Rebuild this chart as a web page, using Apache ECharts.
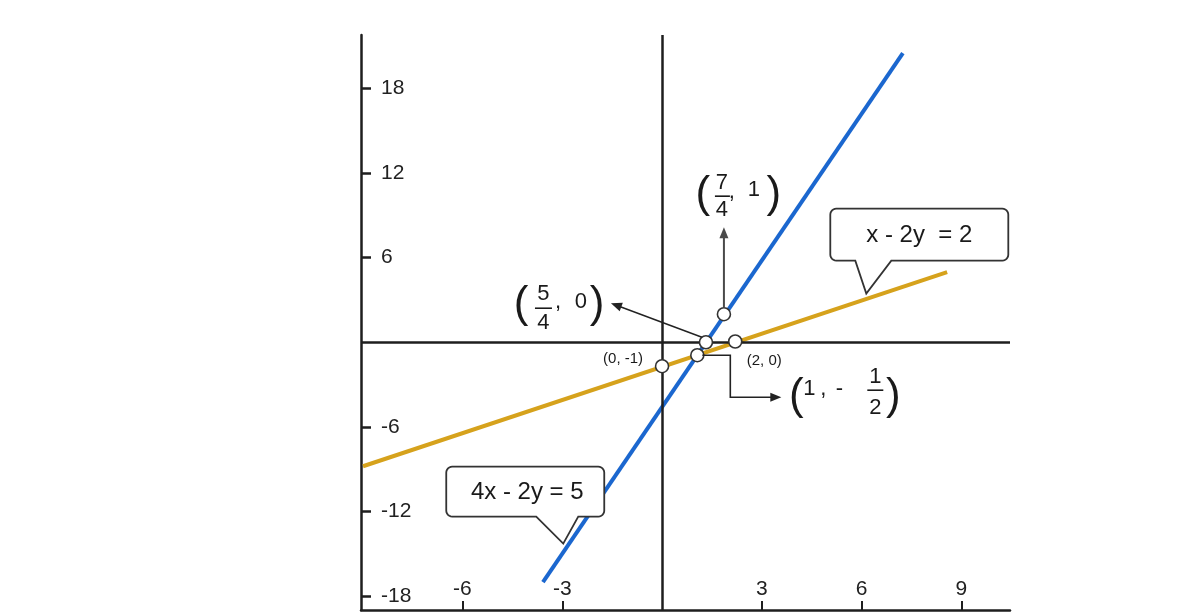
<!DOCTYPE html>
<html><head><meta charset="utf-8">
<script src="https://cdn.jsdelivr.net/npm/echarts@6/dist/echarts.min.js"></script>
<style>html,body{margin:0;padding:0;background:#fff}#c{width:1191px;height:613px}</style>
</head><body><div id="c"></div><script>
// ---- data (axis units) ----
const xTickValues = [-6, -3, 3, 6, 9];
const yTickValues = [-18, -12, -6, 6, 12, 18];
const blueLineX = [-3.58, 7.24];
const blueLineY = [-17.03, 20.51];
const orangeLineX = [-8.99, 8.57];
const orangeLineY = [-8.80, 4.97];
const pointX = [0, 1.32, 1.06, 2.20, 1.86];
const pointY = [-1.70, 0, -0.92, 0.05, 1.99];
const equationLabels = ['x - 2y  = 2', '4x - 2y = 5'];
const smallPointLabels = ['(0, -1)', '(2, 0)'];

const FONT = '"Liberation Sans", Arial, sans-serif';
const BLUE = '#1b67cf';
const GOLD = '#d6a21c';
const INK = '#1e1e1e';

const chart = echarts.init(document.getElementById('c'), null, {renderer: 'canvas'});
const option = {
  animation: false,
  backgroundColor: '#fff',
  grid: {left: 361, right: 181, top: 35, bottom: 3, containLabel: false},
  xAxis: {
    type: 'value', min: -9.05, max: 10.46, position: 'bottom',
    axisLine: {show: true, onZero: false, lineStyle: {color: INK, width: 2.5}},
    axisTick: {show: true, inside: true, length: 9, customValues: xTickValues, lineStyle: {color: INK, width: 2}},
    axisLabel: {show: true, inside: true, margin: 10, customValues: xTickValues, color: '#222', fontSize: 21, fontFamily: FONT},
    splitLine: {show: false}
  },
  yAxis: {
    type: 'value', min: -19, max: 21.8, position: 'left',
    axisLine: {show: true, onZero: false, lineStyle: {color: INK, width: 2.5}},
    axisTick: {show: true, inside: true, length: 10, customValues: yTickValues, lineStyle: {color: INK, width: 2.5}},
    axisLabel: {show: true, inside: true, margin: 20, customValues: yTickValues, color: '#222', fontSize: 21, fontFamily: FONT},
    splitLine: {show: false}
  },
  series: [
    {
      type: 'line', data: [], z: 1, silent: true,
      markLine: {
        silent: true, symbol: ['none', 'none'], animation: false,
        label: {show: false},
        lineStyle: {color: INK, width: 2.5, type: 'solid'},
        emphasis: {disabled: true},
        data: [{xAxis: 0}, {yAxis: 0}]
      }
    },
    {
      type: 'line', name: 'x - 2y = 2', z: 3, showSymbol: false, silent: true,
      data: orangeLineX.map((x, i) => [x, orangeLineY[i]]),
      lineStyle: {color: GOLD, width: 4}
    },
    {
      type: 'line', name: '4x - 2y = 5', z: 4, showSymbol: false, silent: true,
      data: blueLineX.map((x, i) => [x, blueLineY[i]]),
      lineStyle: {color: BLUE, width: 4}
    },
    {
      type: 'scatter', z: 20, silent: true,
      data: pointX.map((x, i) => [x, pointY[i]]),
      symbol: 'circle', symbolSize: 13,
      itemStyle: {color: '#fff', borderColor: '#333', borderWidth: 1.6, opacity: 1}
    }
  ]
};
chart.setOption(option);

// ---- annotations anchored to data coordinates ----
const P = (x, y) => chart.convertToPixel({gridIndex: 0}, [x, y]);
const g = [];
function txt(x, y, s, size, extra) {
  g.push({type: 'text', z: 60, x: x, y: y, style: Object.assign({
    text: s, fontSize: size, fontFamily: FONT, fill: '#1a1a1a',
    align: 'center', verticalAlign: 'middle', textAlign: 'center', textVerticalAlign: 'middle'
  }, extra || {})});
}
function seg(pts, color, w) {
  g.push({type: 'polyline', z: 55, shape: {points: pts}, style: {stroke: color, lineWidth: w, fill: null}});
}
function arrow(pts, color, w) {
  const n = pts.length;
  const [x2, y2] = pts[n - 1], [x1, y1] = pts[n - 2];
  const len = Math.hypot(x2 - x1, y2 - y1), ux = (x2 - x1) / len, uy = (y2 - y1) / len;
  const hl = 11, hw = 4.5;
  const bx = x2 - ux * hl, by = y2 - uy * hl;
  const shaft = pts.slice(0, n - 1).concat([[bx + ux * 1, by + uy * 1]]);
  seg(shaft, color, w);
  g.push({type: 'polygon', z: 56, shape: {points: [[x2, y2], [bx - uy * hw, by + ux * hw], [bx + uy * hw, by - ux * hw]]},
    style: {fill: color, stroke: null}});
}
function bar(x1, x2, y) {
  g.push({type: 'line', z: 60, shape: {x1: x1, y1: y, x2: x2, y2: y}, style: {stroke: '#1a1a1a', lineWidth: 1.6}});
}
function corner(pts, cx, cy, r, a0) {
  for (let k = 0; k <= 6; k++) {
    const a = a0 + (Math.PI / 2) * k / 6;
    pts.push([cx + r * Math.cos(a), cy + r * Math.sin(a)]);
  }
}
function callout(tx, ty, L, R, T, B, a, b, label, cx, cy) {
  const r = 6, pts = [];
  corner(pts, L + r, T + r, r, Math.PI);           // top-left
  corner(pts, R - r, T + r, r, -Math.PI / 2);      // top-right
  corner(pts, R - r, B - r, r, 0);                 // bottom-right
  pts.push([b, B], [tx, ty], [a, B]);
  corner(pts, L + r, B - r, r, Math.PI / 2);       // bottom-left
  g.push({type: 'polygon', z: 50, shape: {points: pts}, style: {fill: '#fff', stroke: '#333', lineWidth: 1.8}});
  txt(cx, cy, label, 24, {fill: '#1a1a1a'});
}

// callout for x - 2y = 2 (tip on gold line)
{
  const [tx, ty] = P(6.14, 3.45);
  callout(tx, ty, tx - 36, tx + 142, ty - 85, ty - 33, tx - 11, tx + 25, equationLabels[0], tx + 53, ty - 58);
}
// callout for 4x - 2y = 5 (tip on blue line)
{
  const [tx, ty] = P(-2.97, -14.29);
  callout(tx, ty, tx - 117, tx + 41, ty - 77, ty - 27, tx - 27, tx + 15, equationLabels[1], tx - 36, ty - 51);
}

const pA = P(pointX[4], pointY[4]); // (7/4, 1)
const pB = P(pointX[1], pointY[1]); // (5/4, 0)
const pC = P(pointX[2], pointY[2]); // (1, -1/2)
const p0 = P(pointX[0], pointY[0]); // (0, -1)
const p2 = P(pointX[3], pointY[3]); // (2, 0)

// arrows
arrow([[pA[0], pA[1] - 7], [pA[0], pA[1] - 87]], '#4a4a4a', 2);
arrow([[pB[0] - 4, pB[1] - 5], [pB[0] - 95, pB[1] - 39]], '#222', 1.4);
arrow([[pC[0] + 5, pC[1]], [pC[0] + 33, pC[1]], [pC[0] + 33, pC[1] + 42], [pC[0] + 84, pC[1] + 42]], '#222', 1.6);

const PS = 44, NS = 22;
// (7/4, 1)
{
  const x0 = pA[0] - 27, yc = pA[1] - 119;
  txt(x0 + 6, yc, '(', PS);
  txt(x0 + 25, yc - 12, '7', NS);
  bar(x0 + 18, x0 + 33, yc + 1);
  txt(x0 + 25, yc + 15, '4', NS);
  txt(x0 + 35, yc - 3, ',', NS);
  txt(x0 + 57, yc - 5, '1', NS);
  txt(x0 + 77, yc, ')', PS);
}
// (5/4, 0)
{
  const x0 = pB[0] - 191, yc = pB[1] - 37;
  txt(x0 + 6, yc, '(', PS);
  txt(x0 + 28.5, yc - 11, '5', NS);
  bar(x0 + 20, x0 + 37, yc + 3);
  txt(x0 + 28.5, yc + 18, '4', NS);
  txt(x0 + 43, yc - 3, ',', NS);
  txt(x0 + 66, yc - 3, '0', NS);
  txt(x0 + 82, yc, ')', PS);
}
// (1, -1/2)
{
  const x0 = pC[0] + 93, yc = pC[1] + 42;
  txt(x0 + 6, yc, '(', PS);
  txt(x0 + 19, yc - 8, '1', NS);
  txt(x0 + 33, yc - 8, ',', NS);
  txt(x0 + 49, yc - 8, '-', NS);
  txt(x0 + 85, yc - 20, '1', NS);
  bar(x0 + 77, x0 + 93, yc - 7);
  txt(x0 + 85, yc + 11, '2', NS);
  txt(x0 + 103, yc, ')', PS);
}
// small labels
txt(p0[0] - 39, p0[1] - 7, smallPointLabels[0], 15);
txt(p2[0] + 29, p2[1] + 19, smallPointLabels[1], 15);

chart.setOption({graphic: {elements: g}});
</script></body></html>
